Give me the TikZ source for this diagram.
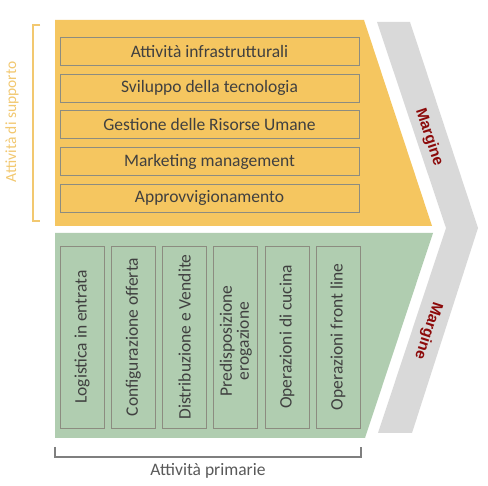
\documentclass[tikz,border=0pt]{standalone}
\usepackage{fontspec}
\setmainfont{Carlito}
\newfontfamily\marginfont{Liberation Sans}
\definecolor{supyellow}{HTML}{F5C660}
\definecolor{primgreen}{HTML}{B0CDB0}
\definecolor{chevgray}{HTML}{D9D9D9}
\definecolor{boxline}{HTML}{8C8C80}
\definecolor{boxtext}{HTML}{404040}
\definecolor{marginred}{HTML}{8C0A0A}
\definecolor{supbracket}{HTML}{F2C870}
\definecolor{primbracket}{HTML}{7F7F7F}
\definecolor{labelgray}{HTML}{595959}
\tikzset{
  supbox/.style={draw=boxline, line width=0.8pt, minimum width=299pt, minimum height=28pt,
    inner sep=0pt, text=boxtext, font=\fontsize{17.5}{18}\selectfont},
  primbox/.style={draw=boxline, line width=0.8pt, minimum width=44pt, minimum height=182pt,
    inner sep=0pt, text=boxtext},
  primtext/.style={rotate=90, text=boxtext, align=center, inner sep=0pt,
    font=\fontsize{17.5}{17}\selectfont},
  margintext/.style={text=marginred, font=\marginfont\bfseries\fontsize{15.5}{16}\selectfont, inner sep=0pt}
}
\begin{document}
\begin{tikzpicture}[x=1pt,y=-1pt]
\useasboundingbox (0,0) rectangle (488,486);
\fill[white] (0,0) rectangle (488,486);
% chevron
\fill[chevgray] (377,22) -- (410,22) -- (478,228) -- (412,433) -- (378,433) -- (446,228) -- cycle;
% support area
\fill[supyellow] (55,20) -- (364,20) -- (432,226) -- (55,226) -- cycle;
% primary area
\fill[primgreen] (55,233) -- (433,233) -- (365,438) -- (55,438) -- cycle;
% support boxes
\node[supbox] (s1) at (209.5,51) {Attività infrastrutturali};
\node[supbox] (s2) at (209.5,88) {Sviluppo della tecnologia};
\node[supbox] (s3) at (209.5,124.5) {Gestione delle Risorse Umane};
\node[supbox] (s4) at (209.5,161.5) {Marketing management};
\node[supbox] (s5) at (209.5,198) {Approvvigionamento};
% primary boxes
\node[primbox] (p1) at (82,337) {};
\node[primbox] (p2) at (133.3,337) {};
\node[primbox] (p3) at (184.5,337) {};
\node[primbox] (p4) at (235.7,337) {};
\node[primbox] (p5) at (287,337) {};
\node[primbox] (p6) at (338,337) {};
\node[primtext] (t1) at (p1.center) {Logistica in entrata};
\node[primtext] (t2) at (p2.center) {Configurazione offerta};
\node[primtext] (t3) at (p3.center) {Distribuzione e Vendite};
\node[primtext] (t4) at ([yshift=-4pt]p4.center) {Predisposizione\\erogazione};
\node[primtext] (t5) at (p5.center) {Operazioni di cucina};
\node[primtext] (t6) at (p6.center) {Operazioni front line};
% margin labels
\node[margintext, rotate=-71.7] (m1) at (429,137) {Margine};
\node[margintext, rotate=-108.3] (m2) at (428,331) {Margine};
% support bracket
\draw[supbracket, line width=1.3pt] (40,25) -- (33,25) -- (33,221) -- (40,221);
\node[rotate=90, text=supbracket, inner sep=0pt, font=\fontsize{15.5}{16}\selectfont] (suplabel) at (12,122) {Attività di supporto};
% primary bracket
\draw[primbracket, line width=1.1pt] (55,447) -- (55,457) -- (361,457) -- (361,447);
\node[text=labelgray, inner sep=0pt, font=\fontsize{17.5}{18}\selectfont] (primlabel) at (208,471) {Attività primarie};
\end{tikzpicture}
\end{document}
